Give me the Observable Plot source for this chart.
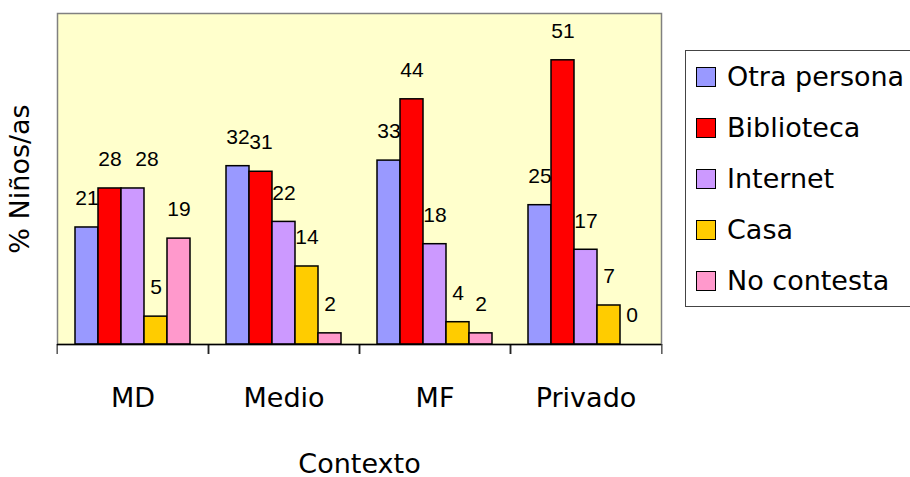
<!DOCTYPE html>
<html><head><meta charset="utf-8">
<script src="https://cdn.jsdelivr.net/npm/d3@7"></script>
<script src="https://cdn.jsdelivr.net/npm/@observablehq/plot@0.6"></script>
<style>
html,body{margin:0;padding:0;background:#fff;overflow:hidden}
#wrap{position:relative;width:910px;height:477px;overflow:hidden;font-family:"DejaVu Sans",sans-serif}
#legend{position:absolute;left:685px;top:50px;width:240px;border:1px solid #444;background:#fff;box-sizing:border-box}
.row{height:51px;display:flex;align-items:center;font-size:27px;color:#000;white-space:nowrap}
.sw{width:20px;height:20px;box-sizing:border-box;border:1.5px solid #000;margin-left:10px;margin-right:11px;flex:none}
</style></head><body><div id="wrap"><div id="legend"></div></div>
<script>
const groups = ["MD", "Medio", "MF", "Privado"];
const series = ["Otra persona", "Biblioteca", "Internet", "Casa", "No contesta"];
const otraPersona = [21, 32, 33, 25];
const biblioteca = [28, 31, 44, 51];
const internet = [28, 22, 18, 17];
const casa = [5, 14, 4, 7];
const noContesta = [19, 2, 2, 0];
const colors = ["#9999FF", "#FF0000", "#CC99FF", "#FFCC00", "#FF99CC"];

const values = [otraPersona, biblioteca, internet, casa, noContesta];
const data = groups.flatMap((g, i) => series.map((s, j) => ({group: g, series: s, value: values[j][i]})));

const W = 910, H = 477, ML = 55, MR = 248, MT = 13, MB = 133;
const halfStep = (W - ML - MR) / groups.length / 2;
const shifted = d => d.group === "MD" && d.series === "Internet";
const labelStyle = {fx: "group", x: "series", y: "value", text: d => String(d.value), dy: -29, fontSize: 21, fontFamily: "Liberation Sans, Arial, sans-serif", fill: "black"};

const chart = Plot.plot({
  width: W, height: H,
  marginLeft: ML, marginRight: MR, marginTop: MT, marginBottom: MB,
  style: {fontFamily: "DejaVu Sans, sans-serif", fontSize: "27px", color: "black", background: "transparent", overflow: "visible"},
  fx: {domain: groups, padding: 0},
  x: {domain: series, paddingInner: 0, paddingOuter: 0.75, axis: null},
  y: {domain: [0, 59.4]},
  color: {domain: series, range: colors},
  marks: [
    Plot.frame({facet: "super", fill: "#FFFFCC", stroke: "#808080", strokeWidth: 1.5}),
    Plot.barY(data, {fx: "group", x: "series", y: "value", fill: "series", stroke: "black", strokeWidth: 1.5}),
    Plot.text(data, {...labelStyle, filter: d => !shifted(d)}),
    Plot.text(data, {...labelStyle, filter: shifted, dx: 14}),
    Plot.ruleY([0], {stroke: "black", strokeWidth: 1.5}),
    Plot.axisY({ticks: [], tickSize: 0, label: "% Niños/as", labelAnchor: "center", labelOffset: 48, labelArrow: "none"}),
    Plot.axisFx({anchor: "bottom", tickSize: 0, tickPadding: 43, label: "Contexto", labelAnchor: "center", labelOffset: 128, labelArrow: "none"}),
    Plot.axisFx({anchor: "bottom", tickSize: 10, tickFormat: () => "", label: null, dx: -halfStep}),
    Plot.axisFx({anchor: "bottom", tickSize: 10, tickFormat: () => "", label: null, dx: halfStep})
  ]
});
const wrap = document.getElementById("wrap");
wrap.insertBefore(chart, wrap.firstChild);

const legend = document.getElementById("legend");
series.forEach((s, i) => {
  const row = document.createElement("div");
  row.className = "row";
  const sw = document.createElement("span");
  sw.className = "sw";
  sw.style.background = colors[i];
  const t = document.createElement("span");
  t.textContent = s;
  row.appendChild(sw);
  row.appendChild(t);
  legend.appendChild(row);
});
</script>
</body></html>
